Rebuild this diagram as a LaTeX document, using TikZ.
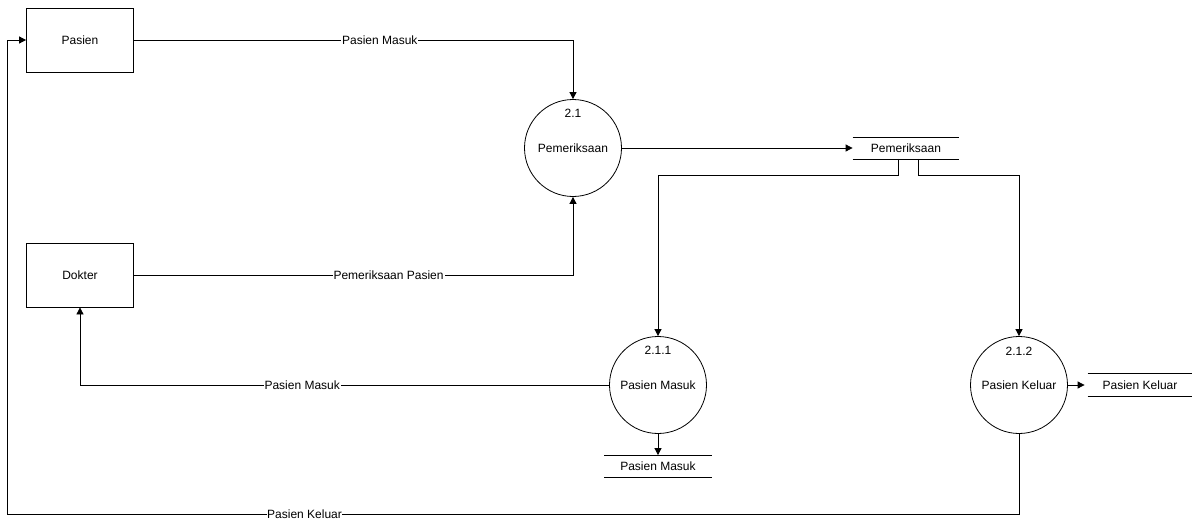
\documentclass[tikz,border=0pt]{standalone}
\usepackage{fontspec}
\setmainfont{Liberation Sans}
\usetikzlibrary{arrows.meta}

\begin{document}
\begin{tikzpicture}[x=1pt,y=-1pt,line width=0.8pt,
	every node/.style={font=\fontsize{12}{14}\selectfont},
	entity/.style={draw, minimum width=107pt, minimum height=64pt},
	proc/.style={draw, circle, minimum size=97pt, inner sep=0pt},
	store/.style={minimum height=21pt, inner sep=0pt},
	lbl/.style={fill=white, inner sep=1pt},
	flow/.style={-{Triangle[length=7pt,width=7pt]}}]
\useasboundingbox (0,0) rectangle (1194,522);
\path (80,40) node[entity] (pasien) {Pasien}
		(80,275) node[entity] (dokter) {Dokter}
		(573,148) node[proc] (c21) {Pemeriksaan}
		(573,113) node (n21) {2.1}
		(906,148) node[store, minimum width=106pt] (dsperiksa) {Pemeriksaan}
		(658,385) node[proc] (c211) {Pasien Masuk}
		(658,350) node (n211) {2.1.1}
		(658,466) node[store, minimum width=107pt] (dsmasuk) {Pasien Masuk}
		(1019,385) node[proc] (c212) {Pasien Keluar}
		(1019,351) node (n212) {2.1.2}
		(1140,385) node[store, minimum width=104pt, minimum height=22pt] (dskeluar) {Pasien Keluar}
		;
\foreach \s in {dsperiksa,dsmasuk,dskeluar}
	\draw (\s.north west) -- (\s.north east) (\s.south west) -- (\s.south east);

\draw[flow] (pasien.east) -| node[lbl, pos=0.28] {Pasien Masuk} (c21.north);
\draw[flow] (dokter.east) -| node[lbl, pos=0.29] {Pemeriksaan Pasien} (c21.south);
\draw[flow] (c21.east) -- (dsperiksa.west);
\draw[flow] ([xshift=-8pt]dsperiksa.south) -- ++(0,16) -| (c211.north);
\draw[flow] ([xshift=12pt]dsperiksa.south) -- ++(0,16) -| (c212.north);
\draw[flow] (c211.west) -| node[lbl, pos=0.29] {Pasien Masuk} (dokter.south);
\draw[flow] (c211.south) -- (dsmasuk.north);
\draw[flow] (c212.east) -- ([xshift=-3pt]dskeluar.west);
\draw[flow] (c212.south) |- node[lbl, pos=0.853, inner sep=0.5pt] {Pasien Keluar} (7,514) |- (pasien.west);
\end{tikzpicture}
\end{document}
